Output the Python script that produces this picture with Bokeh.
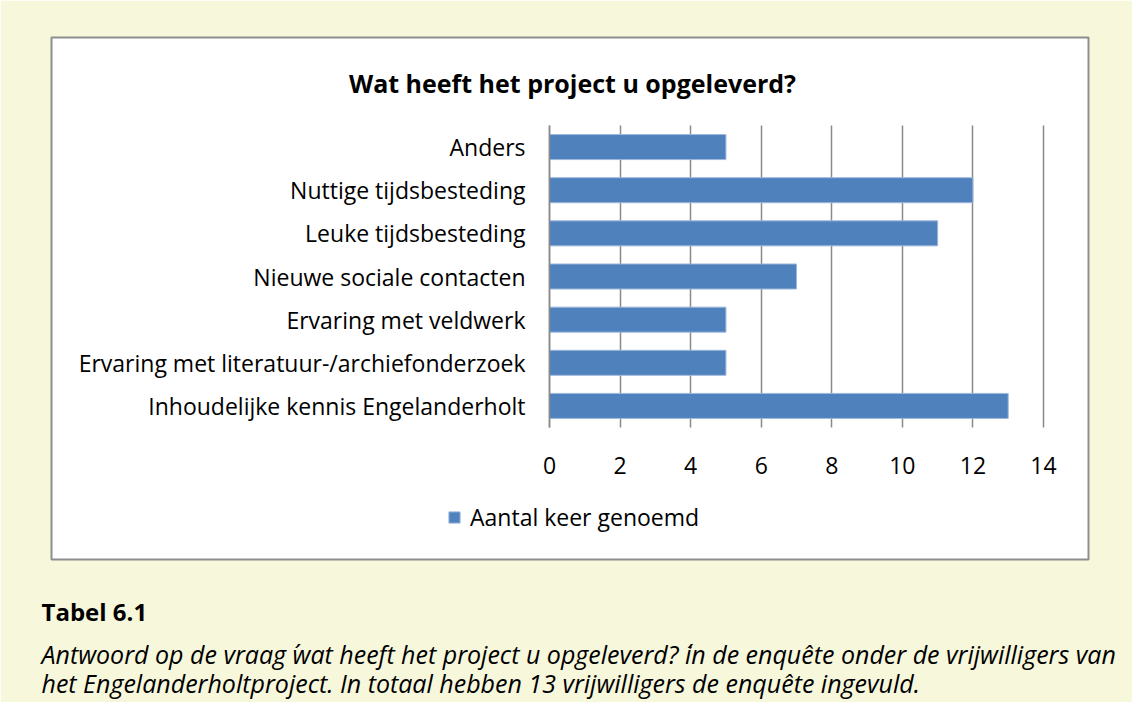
from bokeh.plotting import figure
from bokeh.models import (ColumnDataSource, Range1d, Label, Legend, LegendItem,
                          FixedTicker, Title)
from bokeh.embed import file_html
from bokeh.resources import INLINE

# ---- data (top to bottom as shown) ----
categories = [
    "Anders",
    "Nuttige tijdsbesteding",
    "Leuke tijdsbesteding",
    "Nieuwe sociale contacten",
    "Ervaring met veldwerk",
    "Ervaring met literatuur-/archiefonderzoek",
    "Inhoudelijke kennis Engelanderholt",
]
counts = [5, 12, 11, 7, 5, 5, 13]
x_ticks = [0, 2, 4, 6, 8, 10, 12, 14]
series_name = "Aantal keer genoemd"
chart_title = "Wat heeft het project u opgeleverd?"
caption_head = "Tabel 6.1"
caption_lines = [
    "Antwoord op de vraag \u00b4wat heeft het project u opgeleverd? \u00b4in de enquête onder de vrijwilligers van",
    "het Engelanderholtproject. In totaal hebben 13 vrijwilligers de enquête ingevuld.",
]

FONT = "Open Sans"
BEIGE = "#F7F7DC"
BAR = "#4F81BD"
GRID = "#898989"
BOXLINE = "#8E8E8E"

W, H = 1132, 702
# white chart box (= plot frame), in canvas pixels
BOX_L, BOX_R, BOX_T, BOX_B = 51, 1088, 37, 559
# bar area inside the box
AX_X0, AX_X14, AX_TOP, AX_BOT = 549, 1043, 125, 427

n = len(categories)
ypos = [n - 1 - i for i in range(n)]          # Anders on top
xmax = x_ticks[-1]
ppx = (AX_X14 - AX_X0) / xmax
ppy = (AX_BOT - AX_TOP) / n
x_start = -(AX_X0 - BOX_L) / ppx
x_end = xmax + (BOX_R - AX_X14) / ppx
y_end = (n - 0.5) + (AX_TOP - BOX_T) / ppy
y_start = -0.5 - (BOX_B - AX_BOT) / ppy

src = ColumnDataSource(dict(y=ypos, n=counts, cat=categories))

p = figure(
    width=W, height=H,
    x_range=Range1d(x_start, x_end), y_range=Range1d(y_start, y_end),
    output_backend="svg", toolbar_location=None,
    min_border_left=BOX_L, min_border_right=W - BOX_R,
    min_border_top=BOX_T, min_border_bottom=H - BOX_B,
    title=None,
)
p.border_fill_color = BEIGE
p.background_fill_color = "white"
p.outline_line_color = BOXLINE
p.outline_line_width = 2

r = p.hbar(y="y", right="n", left=0, height=0.58, source=src,
           fill_color=BAR, line_color="#9DB8DB", line_width=1)

# grid (vertical lines only over the bar area)
g = p.xgrid[0]
g.ticker = FixedTicker(ticks=x_ticks)
g.grid_line_color = GRID
g.grid_line_width = 1.5
if "cross_bounds" in g.properties():
    g.cross_bounds = (-0.5, n - 0.5)
p.ygrid.grid_line_color = None

# x axis placed at the bottom of the bar area
xa = p.xaxis[0]
xa.fixed_location = -0.5
xa.bounds = (0, xmax)
xa.ticker = FixedTicker(ticks=x_ticks)
xa.axis_line_color = None
xa.major_tick_line_color = None
xa.minor_tick_line_color = None
xa.major_tick_out = 0
xa.major_tick_in = 0
xa.major_label_standoff = 29
xa.major_label_text_font = FONT
xa.major_label_text_font_size = "23px"
xa.major_label_text_color = "black"

# category axis at x = 0
ya = p.yaxis[0]
ya.fixed_location = 0
ya.bounds = (-0.5, n - 0.5)
ya.ticker = FixedTicker(ticks=ypos)
ya.major_label_overrides = {yy: c for yy, c in zip(ypos, categories)}
ya.axis_line_color = GRID
ya.axis_line_width = 1.5
ya.major_tick_line_color = None
ya.minor_tick_line_color = None
ya.major_tick_out = 0
ya.major_tick_in = 0
ya.major_label_standoff = 24
ya.major_label_text_font = FONT
ya.major_label_text_font_size = "23px"
ya.major_label_text_color = "black"

# chart title inside the box
p.add_layout(Label(x=572 - BOX_L, y=BOX_B - 82, x_units="screen", y_units="screen",
                   text=chart_title, text_font=FONT, text_font_size="25px",
                   text_font_style="bold", text_align="center",
                   text_baseline="alphabetic", text_color="black"))

# legend inside the box
legend = Legend(items=[LegendItem(label=series_name, renderers=[r])],
                location=(447 - BOX_L, BOX_B - 533), orientation="horizontal",
                glyph_width=14, glyph_height=14, label_standoff=9, label_height=14,
                padding=0, spacing=0, margin=0,
                border_line_color=None, background_fill_alpha=0,
                label_text_font=FONT, label_text_font_size="23px",
                label_text_color="black")
p.add_layout(legend, "center")

# caption below the box (stacked titles in the lower border panel)
p.add_layout(Title(text=" ", text_font_size="1px", standoff=30), "below")   # spacer
p.add_layout(Title(text=caption_head, align="left", offset=-10, standoff=0,
                   text_font=FONT, text_font_size="24px", text_font_style="bold",
                   text_color="black"), "below")
for line, so in zip(caption_lines, [15, -30]):
    p.add_layout(Title(text=line, align="left", offset=-10, standoff=so,
                       text_font=FONT, text_font_size="25px",
                       text_font_style="italic", text_color="black"), "below")

open("out.html", "w").write(file_html(p, INLINE))
